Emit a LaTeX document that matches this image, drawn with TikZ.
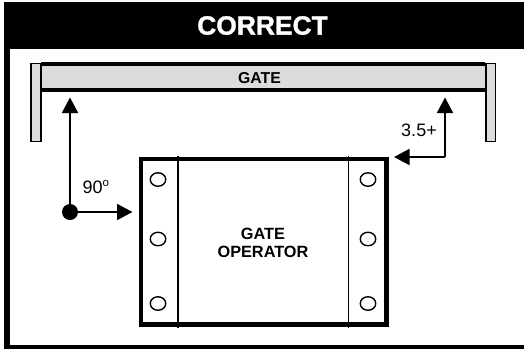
\documentclass[tikz,border=0pt]{standalone}
\usepackage{fontspec}
\setmainfont{Liberation Sans}
\newfontfamily\titlefont[FakeBold=1.2]{Liberation Sans Bold}
\usetikzlibrary{arrows.meta,shapes.geometric}
\newcommand{\fsz}[1]{\fontsize{#1}{#1}\selectfont}
\definecolor{gatefill}{HTML}{DCDCDC}
\tikzset{
  x=1pt,y=-1pt,
  panel/.style={draw=black,line width=1.3pt,fill=gatefill,inner sep=0pt},
  hole/.style={draw=black,line width=1.4pt,fill=white,ellipse,minimum width=15.5pt,minimum height=13.5pt,inner sep=0pt},
  plain/.style={inner sep=0pt,text=black},
  dim/.style={plain,font=\fsz{18}},
  arr/.style={draw=black,line width=1.8pt,-{Triangle[length=15.5pt,width=16pt]}},
  heavy/.style={line width=4pt,draw=black},
  thin line/.style={line width=1.3pt,draw=black}
}
\begin{document}
\begin{tikzpicture}
\useasboundingbox (0,0) rectangle (524,349);
% frame
\fill[black] (4,2) rectangle (524,349);
\fill[white] (10,48.5) rectangle (524,345);
\node[plain,text=white,font=\fsz{26.4}\titlefont] (title) at (262.5,25.5) {CORRECT};
% gate
\fill[gatefill] (41,65) rectangle (485,90);
\draw[heavy] (41,64.3) -- (485,64.3);
\draw[heavy] (41,90) -- (485,90);
\node[plain,font=\fsz{15.8}\bfseries] (gate) at (259.5,78) {GATE};
\node[panel,minimum width=10pt,minimum height=78pt,anchor=north west] (postl) at (30.3,62.8) {};
\node[panel,minimum width=9.5pt,minimum height=78pt,anchor=north west] (postr) at (485.3,62.8) {};
% operator
\node[draw=black,line width=4.4pt,fill=white,minimum width=245.8pt,minimum height=165.3pt,inner sep=0pt,anchor=north west] (op) at (138.5,157) {};
\coordinate (ltop) at (178,156); \coordinate (lbot) at (178,327.5);
\coordinate (rtop) at (348.5,156); \coordinate (rbot) at (348.5,327.5);
\draw[thin line] (ltop) -- (lbot);
\draw[thin line] (rtop) -- (rbot);
\node[hole] (h1) at (158,179.5) {};
\node[hole] (h2) at (158,239) {};
\node[hole] (h3) at (158,303.5) {};
\node[hole] (h4) at (368,179.5) {};
\node[hole] (h5) at (368,239) {};
\node[hole] (h6) at (368,303.5) {};
\node[plain,font=\fsz{16.3}\bfseries,align=center] (optext) at (263,242.5) {GATE\\[1.5pt]OPERATOR};
% left dims
\node[circle,fill=black,minimum size=16pt,inner sep=0pt] (dot) at (70,212) {};
\coordinate (upl) at (70,97.5);
\coordinate (rgt) at (132.5,212);
\draw[arr] (dot.center) -- (upl);
\draw[arr] (dot.center) -- (rgt);
\node[dim,anchor=base west] (ninety) at (82.5,193) {90\raisebox{6.5pt}{\fsz{11.5}o}};
% right dims
\coordinate (corner) at (445,157);
\coordinate (upr) at (445,97.5);
\coordinate (lft) at (394,157);
\draw[arr] (corner) -- (upr);
\draw[arr] (corner) -- (lft);
\node[dim] (dist) at (419,130.5) {3.5+};
\end{tikzpicture}
\end{document}
